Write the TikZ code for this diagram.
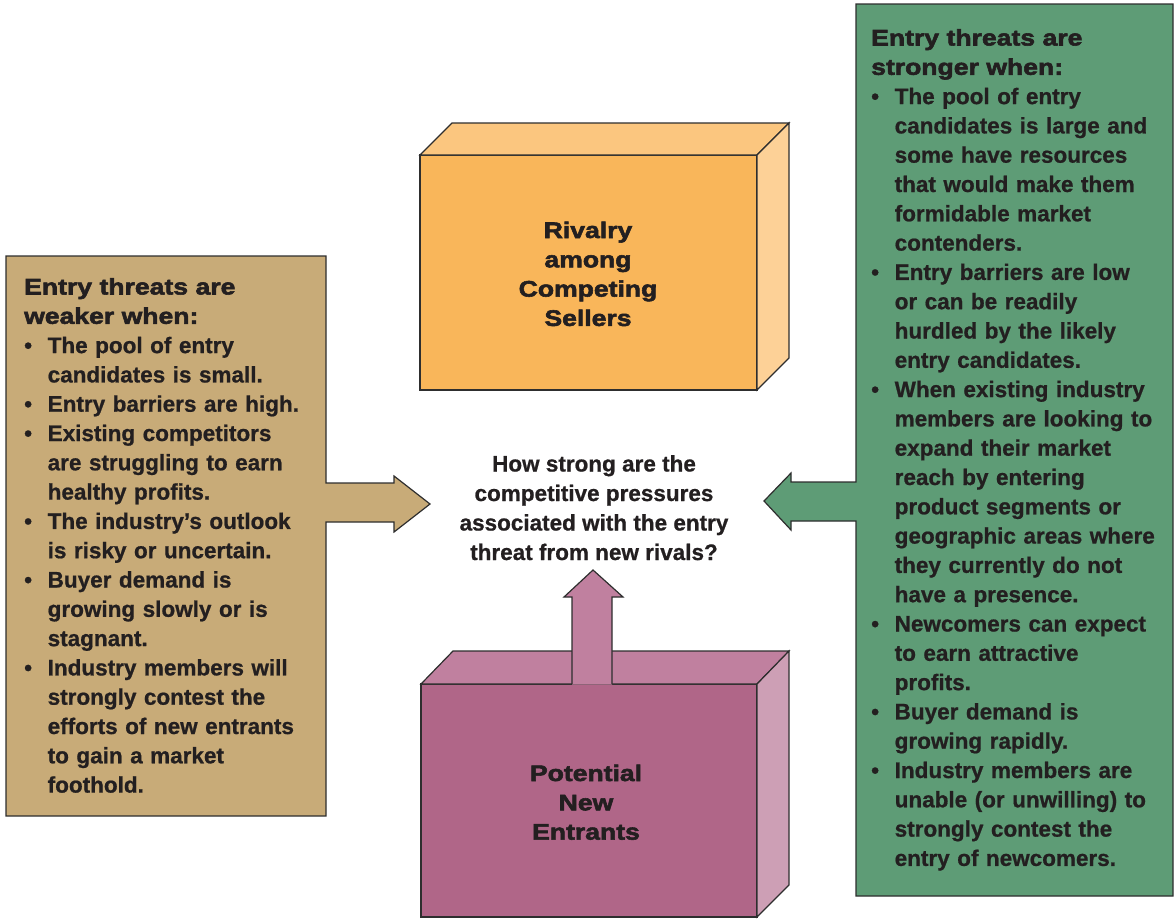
\documentclass[tikz,border=0pt]{standalone}
\usepackage{fontspec}
\setmainfont{Liberation Sans}[BoldFeatures={FakeBold=0.8}]
\newfontfamily\heavyfont[FakeStretch=1.18,FakeBold=2.5]{Liberation Sans Bold}

\definecolor{weakfill}{HTML}{C8AB78}
\definecolor{strongfill}{HTML}{5E9C76}
\definecolor{rivalfront}{HTML}{F9B65A}
\definecolor{rivaltop}{HTML}{FBC67F}
\definecolor{rivalside}{HTML}{FDD197}
\definecolor{entrantfront}{HTML}{B06688}
\definecolor{entranttop}{HTML}{C0809F}
\definecolor{entrantside}{HTML}{CD9FB5}
\definecolor{inkdark}{HTML}{231F20}
\definecolor{edgegray}{HTML}{2E2E2E}

% Aufzaehlungspunkt mit haengendem Einzug
\newcommand{\punkt}[1]{\par\noindent\hangindent=23.5pt\hangafter=1%
  \makebox[23.5pt][l]{\textbullet}{\let\\\newline #1}}

\begin{document}
\begin{tikzpicture}[x=1pt,y=-1pt,
  outline/.style={draw=edgegray,line width=1.2pt,line join=miter},
  listtext/.style={anchor=north west,inner sep=0pt,text width=300pt,
    text=inkdark,font=\fontsize{22.5}{29.3}\selectfont\bfseries},
  boxtitle/.style={anchor=north,inner sep=0pt,align=center,
    text=inkdark,font=\fontsize{22.5}{29.3}\selectfont\heavyfont}]
\useasboundingbox (0,0) rectangle (1174,922);
%Kasten links mit Pfeil
	\filldraw[outline,fill=weakfill] (6,256) -- (326,256) -- (326,483)
		-- (394,483) -- (394,476) -- (430,504) -- (394,532) -- (394,522)
		-- (326,522) -- (326,816) -- (6,816) -- cycle;
%Kasten rechts mit Pfeil
	\filldraw[outline,fill=strongfill] (856,4) -- (1173,4) -- (1173,896)
		-- (856,896) -- (856,521) -- (791,521) -- (791,530) -- (764,501)
		-- (791,473) -- (791,482) -- (856,482) -- cycle;
%Quader oben
	\filldraw[outline,fill=rivalfront] (420,155) rectangle (757,390);
	\filldraw[outline,fill=rivaltop] (420,155) -- (452,123) -- (789,123)
		-- (757,155) -- cycle;
	\filldraw[outline,fill=rivalside] (757,155) -- (789,123) -- (789,358)
		-- (757,390) -- cycle;
%Quader unten
	\filldraw[outline,fill=entrantfront] (421,684) rectangle (757,917);
	\filldraw[outline,fill=entranttop] (421,684) -- (453,651) -- (789,651)
		-- (757,684) -- cycle;
	\filldraw[outline,fill=entrantside] (757,684) -- (789,651) -- (789,885)
		-- (757,917) -- cycle;
%Pfeil nach oben
	\fill[entranttop] (572,684.5) -- (572,597) -- (564,597) -- (593,570)
		-- (623,597) -- (612,597) -- (612,684.5) -- cycle;
	\draw[outline] (572,684) -- (572,597) -- (564,597) -- (593,570)
		-- (623,597) -- (612,597) -- (612,684);
%Beschriftung
	\draw (588,221.5) node (rivalry)
		[boxtitle]
		{Rivalry\\among\\Competing\\Sellers};
	\draw (586,764.5) node (entrants)
		[boxtitle]
		{Potential\\New\\Entrants};
	\draw (594,455) node (question)
		[boxtitle,font=\fontsize{22.5}{29.5}\selectfont\bfseries]
		{How strong are the\\competitive pressures\\associated with the entry\\threat from new rivals?};
%Listen
	\draw (24,278) node (weaker)
		[listtext]
		{\noindent{\heavyfont Entry threats are\\weaker when:}
		\punkt{The pool of entry\\candidates is small.}
		\punkt{Entry barriers are high.}
		\punkt{Existing competitors\\are struggling to earn\\healthy profits.}
		\punkt{The industry’s outlook\\is risky or uncertain.}
		\punkt{Buyer demand is\\growing slowly or is\\stagnant.}
		\punkt{Industry members will\\strongly contest the\\efforts of new entrants\\to gain a market\\foothold.}\par};
	\draw (871,29) node (stronger)
		[listtext]
		{\noindent{\heavyfont Entry threats are\\stronger when:}
		\punkt{The pool of entry\\candidates is large and\\some have resources\\that would make them\\formidable market\\contenders.}
		\punkt{Entry barriers are low\\or can be readily\\hurdled by the likely\\entry candidates.}
		\punkt{When existing industry\\members are looking to\\expand their market\\reach by entering\\product segments or\\geographic areas where\\they currently do not\\have a presence.}
		\punkt{Newcomers can expect\\to earn attractive\\profits.}
		\punkt{Buyer demand is\\growing rapidly.}
		\punkt{Industry members are\\unable (or unwilling) to\\strongly contest the\\entry of newcomers.}\par};
\end{tikzpicture}
\end{document}
